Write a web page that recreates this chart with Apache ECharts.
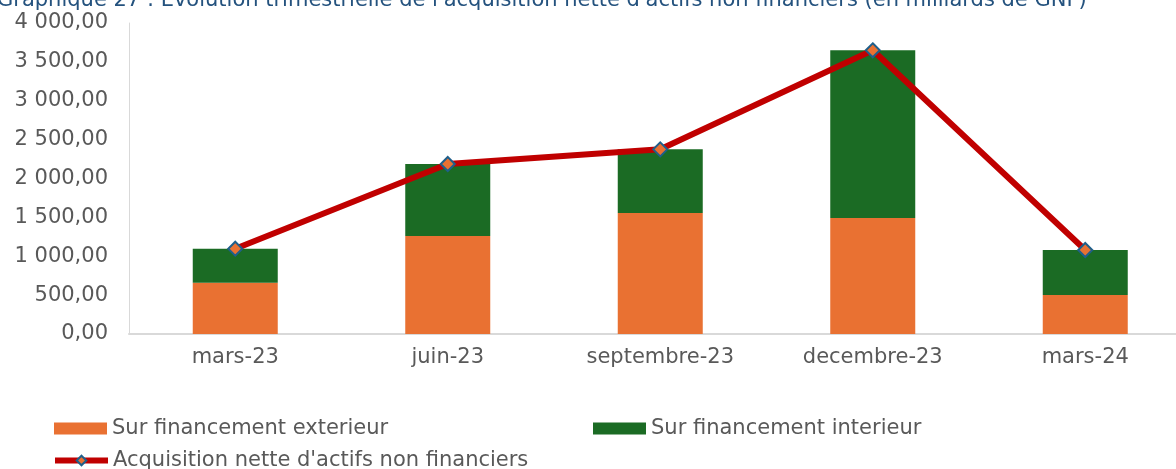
<!DOCTYPE html>
<html>
<head>
<meta charset="utf-8">
<script src="https://cdn.jsdelivr.net/npm/echarts@6/dist/echarts.min.js"></script>
<style>
html,body{margin:0;padding:0;background:#fff;}
#chart{width:1176px;height:469px;}
</style>
</head>
<body>
<div id="chart"></div>
<script>
const titleText = "Graphique 27 : Evolution trimestrielle de l'acquisition nette d'actifs non financiers (en milliards de GNF)";
const categories = ['mars-23', 'juin-23', 'septembre-23', 'decembre-23', 'mars-24'];
const exterieur = [660, 1260, 1556, 1492, 502];
const interieur = [437, 926, 819, 2157, 578];
const acquisition = [1097, 2186, 2375, 3649, 1080];
const seriesNames = ['Sur financement exterieur', 'Sur financement interieur', "Acquisition nette d'actifs non financiers"];

function fmt(v) {
  const parts = v.toFixed(2).split('.');
  const intPart = parts[0].replace(/\B(?=(\d{3})+(?!\d))/g, ' ');
  return intPart + ',' + parts[1];
}

const font = 'DejaVu Sans';
const chart = echarts.init(document.getElementById('chart'));
const legendText = {fontFamily: font, fontSize: 21, color: '#595959'};
const legendBase = {itemWidth: 53, itemHeight: 12, padding: 0, textStyle: legendText};
chart.setOption({
  animation: false,
  title: {
    text: titleText, left: -8, top: -15,
    textStyle: {fontFamily: font, fontSize: 21, fontWeight: 'normal', color: '#24527E'}
  },
  grid: {left: 129, width: 1062.5, top: 23, bottom: 135, containLabel: false, outerBoundsMode: 'none'},
  legend: [
    Object.assign({data: [{name: seriesNames[0], icon: 'rect'}], left: 54, top: 418}, legendBase),
    Object.assign({data: [{name: seriesNames[1], icon: 'rect'}], left: 593, top: 418}, legendBase),
    Object.assign({data: [seriesNames[2]], left: 52, top: 450, lineStyle: {width: 6}}, legendBase)
  ],
  xAxis: {
    type: 'category', data: categories,
    axisLine: {lineStyle: {color: '#D9D9D9', width: 2}},
    axisTick: {show: false},
    axisLabel: {fontFamily: font, fontSize: 21, color: '#595959', margin: 13}
  },
  yAxis: {
    type: 'value', min: 0, max: 4000, interval: 500,
    axisLine: {show: true, lineStyle: {color: '#D9D9D9', width: 1}},
    axisTick: {show: false},
    splitLine: {show: false},
    axisLabel: {fontFamily: font, fontSize: 21, color: '#595959', margin: 21, formatter: fmt}
  },
  series: [
    {name: seriesNames[0], type: 'bar', stack: 'tot', data: exterieur, barWidth: '40%',
     itemStyle: {color: '#E97132'}},
    {name: seriesNames[1], type: 'bar', stack: 'tot', data: interieur, barWidth: '40%',
     itemStyle: {color: '#1B6B24'}},
    {name: seriesNames[2], type: 'line', data: acquisition, z: 5,
     symbol: 'diamond', symbolSize: 14,
     lineStyle: {color: '#C00000', width: 6},
     itemStyle: {color: '#E97132', borderColor: '#1F5F8B', borderWidth: 2}}
  ]
});
</script>
</body>
</html>
